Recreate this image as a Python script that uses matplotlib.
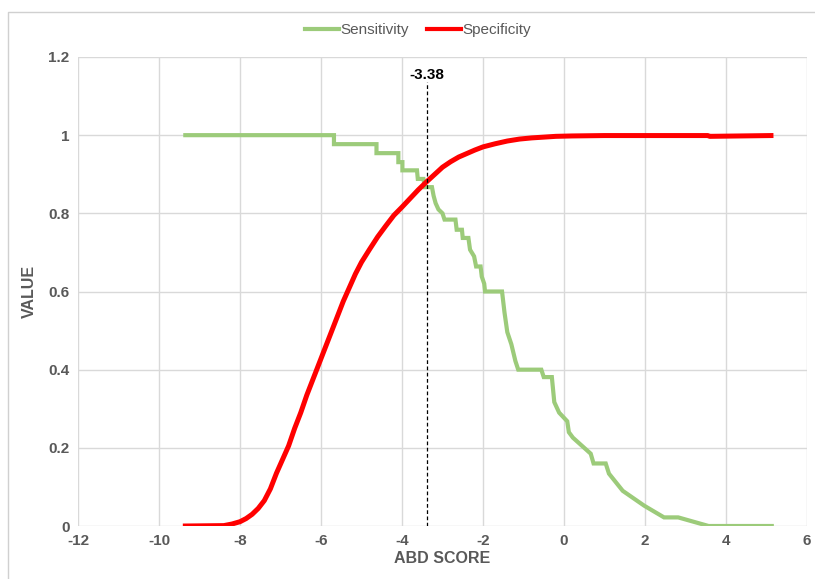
import matplotlib.pyplot as plt
from matplotlib.lines import Line2D

plt.rcParams['font.family'] = ['Liberation Sans', 'DejaVu Sans']
plt.rcParams['axes.unicode_minus'] = False

# --- Curve data ---
sens_x = [-9.35, -5.68, -5.68, -4.63, -4.63, -4.09, -4.09, -3.99, -3.99, -3.63,
          -3.61, -3.47, -3.44, -3.26, -3.22, -3.17, -3.10, -3.00, -2.95, -2.68,
          -2.65, -2.52, -2.50, -2.36, -2.32, -2.22, -2.17, -2.06, -2.03, -1.97,
          -1.95, -1.53, -1.47, -1.40, -1.30, -1.20, -1.13, -0.56, -0.50, -0.30,
          -0.24, -0.12, 0.08, 0.12, 0.22, 0.66, 0.73, 1.03, 1.11, 1.45,
          1.98, 2.47, 2.82, 3.57, 5.13]
sens_y = [1.0, 1.0, 0.977, 0.977, 0.954, 0.954, 0.931, 0.931, 0.91, 0.91,
          0.888, 0.888, 0.867, 0.867, 0.845, 0.826, 0.81, 0.80, 0.784, 0.784,
          0.758, 0.758, 0.737, 0.737, 0.707, 0.69, 0.664, 0.664, 0.638, 0.62,
          0.60, 0.60, 0.547, 0.496, 0.465, 0.422, 0.40, 0.40, 0.381, 0.381,
          0.317, 0.29, 0.268, 0.24, 0.226, 0.185, 0.16, 0.16, 0.134, 0.09,
          0.052, 0.022, 0.022, 0.0, 0.0]

spec_x = [-9.35, -8.4, -8.2, -8.0, -7.85, -7.7, -7.55, -7.4, -7.25, -7.1,
          -6.95, -6.8, -6.65, -6.5, -6.35, -6.2, -6.05, -5.9, -5.75, -5.6,
          -5.45, -5.3, -5.15, -5.0, -4.8, -4.6, -4.4, -4.2, -4.0, -3.8,
          -3.6, -3.4, -3.2, -3.0, -2.8, -2.6, -2.4, -2.2, -2.0, -1.7,
          -1.4, -1.1, -0.8, -0.5, -0.2, 0.2, 1.0, 2.0, 3.55, 3.6, 5.11]
spec_y = [0.0, 0.001, 0.005, 0.011, 0.019, 0.03, 0.045, 0.065, 0.095, 0.135,
          0.17, 0.205, 0.25, 0.29, 0.335, 0.375, 0.415, 0.455, 0.495, 0.535,
          0.575, 0.61, 0.645, 0.675, 0.708, 0.74, 0.768, 0.795, 0.816, 0.838,
          0.86, 0.88, 0.899, 0.918, 0.932, 0.944, 0.953, 0.962, 0.97, 0.978,
          0.985, 0.99, 0.993, 0.995, 0.997, 0.998, 0.999, 0.999, 0.999, 0.997, 0.999]

cutoff = -3.38

text_gray = '#595959'
grid_gray = '#d9d9d9'

fig = plt.figure(figsize=(8.15, 5.79), dpi=100)
ax = fig.add_axes([78 / 815, 1 - 526 / 579, 729 / 815, 469 / 579])

ax.plot(sens_x, sens_y, color='#9ccb7a', lw=3, solid_joinstyle='miter', zorder=3)
ax.plot(spec_x, spec_y, color='#ff0000', lw=3.6, zorder=4)

# cut-off marker
ax.plot([cutoff, cutoff], [0, 1.135], color='black', lw=0.9,
        linestyle=(0, (3, 2)), zorder=5)
ax.text(cutoff, 1.137, f'{cutoff:.2f}', ha='center', va='bottom',
        fontsize=11, fontweight='bold', color='black')

ax.set_xlim(-12, 6)
ax.set_ylim(0, 1.2)
ax.set_xticks(range(-12, 7, 2))
ax.set_yticks([0, 0.2, 0.4, 0.6, 0.8, 1, 1.2])
ax.set_yticklabels(['0', '0.2', '0.4', '0.6', '0.8', '1', '1.2'])
ax.grid(True, color=grid_gray, lw=1)
ax.set_axisbelow(True)
for s in ax.spines.values():
    s.set_visible(False)
ax.tick_params(length=0, labelsize=11, labelcolor=text_gray, pad=6)
for lab in ax.get_xticklabels() + ax.get_yticklabels():
    lab.set_fontweight('bold')

ax.set_xlabel('ABD SCORE', fontsize=11.5, fontweight='bold', color=text_gray, labelpad=2)
ax.set_ylabel('VALUE', fontsize=11.5, fontweight='bold', color=text_gray, labelpad=8)

handles = [Line2D([], [], color='#9ccb7a', lw=3),
           Line2D([], [], color='#ff0000', lw=3)]
fig.legend(handles, ['Sensitivity', 'Specificity'], loc='center',
           bbox_to_anchor=(418 / 815, 1 - 30 / 579), ncol=2, frameon=False,
           fontsize=11, labelcolor=text_gray, handlelength=2.2,
           handletextpad=0.1, columnspacing=1.2)

# chart-area border (top and left edges visible)
fig.add_artist(Line2D([8 / 815, 8 / 815, 1], [0, 1 - 12 / 579, 1 - 12 / 579],
                      transform=fig.transFigure, color='#d0d0d0', lw=1))

plt.savefig('out.png', dpi=100)
